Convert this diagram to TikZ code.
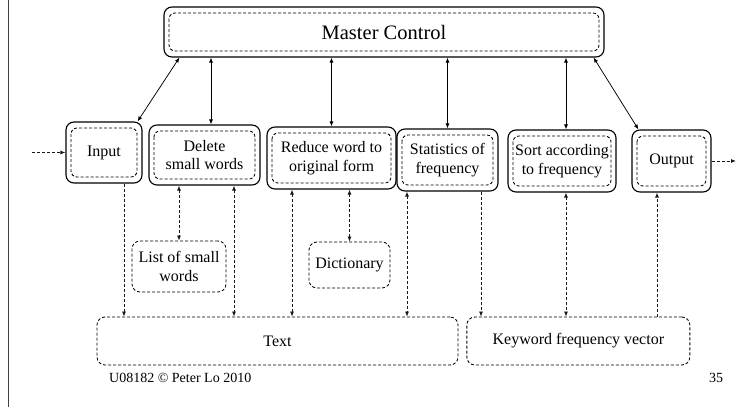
\documentclass[tikz,border=0pt]{standalone}
\usepackage{fontspec}
\setmainfont{Liberation Serif}
\usetikzlibrary{arrows.meta, calc, positioning}

\begin{document}
\begin{tikzpicture}[
	x=1pt, y=-1pt,
	every node/.style = {align=center, inner sep=0pt, font=\fontsize{16}{18.5}\selectfont},
	process node/.style = {draw, line width=1.1pt, rounded corners=8pt,
		path picture={\draw[line width=0.85pt, dash pattern=on 3pt off 2pt, rounded corners=6pt]
			([shift={(5pt,-6pt)}]path picture bounding box.north west) rectangle
			([shift={(-5pt,6pt)}]path picture bounding box.south east);}},
	store node/.style = {draw, line width=0.85pt, dash pattern=on 3pt off 2pt, rounded corners=8pt},
	control flow/.style = {line width=0.75pt, {Latex[length=5pt,width=4pt]}-{Latex[length=5pt,width=4pt]}},
	data flow/.style = {line width=0.8pt, black!90, dash pattern=on 3pt off 2pt, -{Latex[length=5pt,width=4pt]}},
	data flow both/.style = {data flow, {Latex[length=5pt,width=4pt]}-{Latex[length=5pt,width=4pt]}},
	picture label/.style = {font=\fontsize{14}{16}\selectfont, anchor=west}
]
	\useasboundingbox (0,0) rectangle (737,407);
	\draw[line width=0.9pt, black!75] (8,0) -- (8,407);

	\node[process node, minimum width=440pt, minimum height=50pt, font=\fontsize{20.5}{24}\selectfont] (master) at (384,32) {Master Control};

	\node[process node, minimum width=76pt, minimum height=61pt] (input) at (104,152.5) {Input};
	\node[process node, minimum width=111pt, minimum height=60pt] (delete) at (204.5,155) {Delete\\small words};
	\node[process node, minimum width=129pt, minimum height=62pt] (reduce) at (331.5,158) {Reduce word to\\original form};
	\node[process node, minimum width=101pt, minimum height=62pt] (stats) at (447.5,160) {Statistics of\\frequency};
	\node[process node, minimum width=108pt, minimum height=62pt] (sort) at (562,161) {Sort according\\to frequency};
	\node[process node, minimum width=79pt, minimum height=62pt] (output) at (671.5,161) {Output};

	\node[store node, minimum width=94pt, minimum height=51pt] (list) at (179,266.5) {List of small\\words};
	\node[store node, minimum width=81pt, minimum height=46pt] (dict) at (349.5,265) {Dictionary};
	\node[store node, minimum width=361pt, minimum height=48pt] (text) at (277.5,341) {Text};
	\node[store node, minimum width=223pt, minimum height=48pt, right=8pt of text] (keyword) {Keyword frequency vector};

	\node[picture label] (footer) at (109,378) {U08182 © Peter Lo 2010};
	\node[picture label] (page) at (709,378) {35};

	\coordinate (in) at (32,152.5);
	\coordinate (out) at (736,161);

	\draw[data flow] (in) -- (input);
	\draw[data flow] (output) -- (out);

	\draw[control flow] ([xshift=16pt]master.south west) -- ([xshift=-5pt]input.north east);
	\draw[control flow] ($(delete.north |- master.south)+(6.5,0)$) -- ($(delete.north)+(6.5,0)$);
	\draw[control flow] (reduce.north |- master.south) -- (reduce.north);
	\draw[control flow] (stats.north |- master.south) -- (stats.north);
	\draw[control flow] ($(sort.north |- master.south)+(4,0)$) -- ($(sort.north)+(4,0)$);
	\draw[control flow] ([xshift=-11pt]master.south east) -- ([xshift=7pt]output.north west);

	\draw[data flow] ($(input.south)+(20,0)$) -- ($(input.south |- text.north)+(20,0)$);
	\draw[data flow both] (delete.south -| list) -- (list.north);
	\draw[data flow both] ($(delete.south)+(29.5,0)$) -- ($(delete.south |- text.north)+(29.5,0)$);
	\draw[data flow both] ($(reduce.south)+(-39.5,0)$) -- ($(reduce.south |- text.north)+(-39.5,0)$);
	\draw[data flow both] (reduce.south -| dict) -- (dict.north);
	\draw[data flow both] ($(stats.south)+(-40.5,0)$) -- ($(stats.south |- text.north)+(-40.5,0)$);
	\draw[data flow] ($(stats.south)+(33.5,0)$) -- ($(stats.south |- keyword.north)+(33.5,0)$);
	\draw[data flow both] ($(sort.south)+(4,0)$) -- ($(sort.south |- keyword.north)+(4,0)$);
	\draw[data flow] ($(output.south |- keyword.north)+(-14.5,0)$) -- ($(output.south)+(-14.5,0)$);
\end{tikzpicture}
\end{document}
